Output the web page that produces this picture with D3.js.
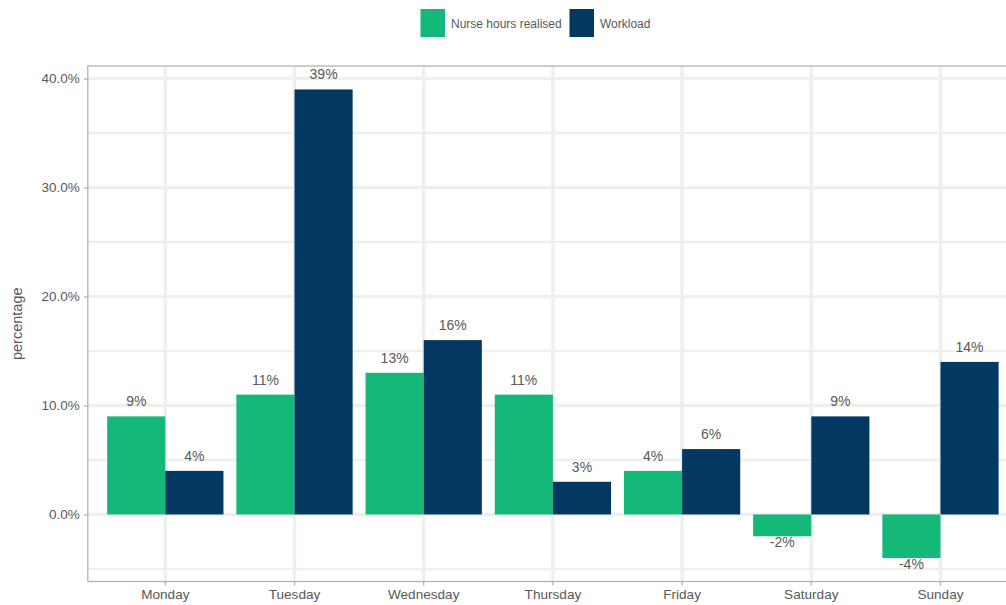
<!DOCTYPE html>
<html><head><meta charset="utf-8">
<script src="https://cdn.jsdelivr.net/npm/d3@7"></script>
<style>html,body{margin:0;padding:0;background:#fff;overflow:hidden}svg{display:block}</style>
</head><body>
<svg id="chart" width="1006" height="605"></svg>
<script>
const days = ["Monday","Tuesday","Wednesday","Thursday","Friday","Saturday","Sunday"];
const seriesNames = ["Nurse hours realised","Workload"];
const nurseHours = [0.09,0.11,0.13,0.11,0.04,-0.02,-0.04];
const workload = [0.04,0.39,0.16,0.03,0.06,0.09,0.14];
const colors = ["#14B878","#023861"];
const yTicks = [0,0.1,0.2,0.3,0.4];
const yMinor = [-0.05,0.05,0.15,0.25,0.35];

(function(){
const svg = d3.select("#chart");
const font = "'Liberation Sans', Arial, sans-serif";
const textCol = "#595959";
const gridCol = "#efefef";
const pL = 87.8, pR = 1018, pT = 66, pB = 581.5;

const seriesVals = [nurseHours, workload];
const allVals = nurseHours.concat(workload);
const ext = d3.extent(allVals);
const pad = (ext[1]-ext[0])*0.05;
const y = d3.scaleLinear().domain([ext[0]-pad, ext[1]+pad]).range([pB, pT]);
const x = d3.scaleBand().domain(days).range([pL, pR]).paddingInner(0.1).paddingOuter(0.15);
const xs = d3.scaleBand().domain(seriesNames).range([0, x.bandwidth()]);
const pct0 = v => d3.format(".0%")(v).replace("\u2212","-");

const g = svg.append("g");
g.selectAll(".ymin").data(yMinor).join("line")
  .attr("x1", pL).attr("x2", pR).attr("y1", d=>y(d)).attr("y2", d=>y(d))
  .attr("stroke", gridCol).attr("stroke-width", 2.5);
g.selectAll(".ymaj").data(yTicks).join("line")
  .attr("x1", pL).attr("x2", pR).attr("y1", d=>y(d)).attr("y2", d=>y(d))
  .attr("stroke", gridCol).attr("stroke-width", 3.5);
g.selectAll(".xmaj").data(days).join("line")
  .attr("x1", d=>x(d)+x.bandwidth()/2).attr("x2", d=>x(d)+x.bandwidth()/2)
  .attr("y1", pT).attr("y2", pB)
  .attr("stroke", gridCol).attr("stroke-width", 3.5);

const barData = [];
days.forEach((d,i)=>seriesNames.forEach((s,j)=>barData.push({day:d, s:s, j:j, v:seriesVals[j][i]})));
g.selectAll(".bar").data(barData).join("rect")
  .attr("x", d=>x(d.day)+xs(d.s))
  .attr("width", xs.bandwidth())
  .attr("y", d=>y(Math.max(0,d.v)))
  .attr("height", d=>Math.abs(y(d.v)-y(0)))
  .attr("fill", d=>colors[d.j]);

g.selectAll(".lbl").data(barData).join("text")
  .attr("x", d=>x(d.day)+xs(d.s)+xs.bandwidth()/2)
  .attr("y", d=> d.v>=0 ? y(d.v)-10 : y(d.v)+11)
  .attr("text-anchor","middle")
  .attr("font-family", font).attr("font-size", 14).attr("fill", textCol)
  .text(d=>pct0(d.v));

svg.append("rect").attr("x", pL).attr("y", pT).attr("width", pR-pL).attr("height", pB-pT)
  .attr("fill","none").attr("stroke","#b3b3b3").attr("stroke-width",1.3);

const yAxis = svg.append("g").attr("transform", `translate(${pL},0)`)
  .call(d3.axisLeft(y).tickValues(yTicks).tickFormat(d3.format(".1%")).tickSize(4).tickPadding(4));
yAxis.select(".domain").remove();
yAxis.selectAll(".tick line").attr("stroke","#b3b3b3").attr("stroke-width",1.3);
yAxis.selectAll(".tick text").attr("font-family", font).attr("font-size", 13.5).attr("fill", textCol);

const xAxis = svg.append("g").attr("transform", `translate(0,${pB})`)
  .call(d3.axisBottom(x).tickSize(4).tickPadding(4));
xAxis.select(".domain").remove();
xAxis.selectAll(".tick line").attr("stroke","#b3b3b3").attr("stroke-width",1.3);
xAxis.selectAll(".tick text").attr("font-family", font).attr("font-size", 13.6).attr("fill", textCol);

svg.append("text").attr("transform", `translate(22,${(pT+pB)/2}) rotate(-90)`)
  .attr("text-anchor","middle").attr("font-family", font).attr("font-size", 14.5).attr("fill", textCol)
  .text("percentage");

const legX = [420.5, 569.5];
const leg = svg.append("g");
seriesNames.forEach((s,j)=>{
  leg.append("rect").attr("x", legX[j]).attr("y", 9).attr("width", 24.5).attr("height", 28).attr("fill", colors[j]);
  leg.append("text").attr("x", legX[j]+30.5).attr("y", 27.5).attr("font-family", font).attr("font-size", 12).attr("fill", textCol).text(s);
});
})();
</script>
</body></html>
